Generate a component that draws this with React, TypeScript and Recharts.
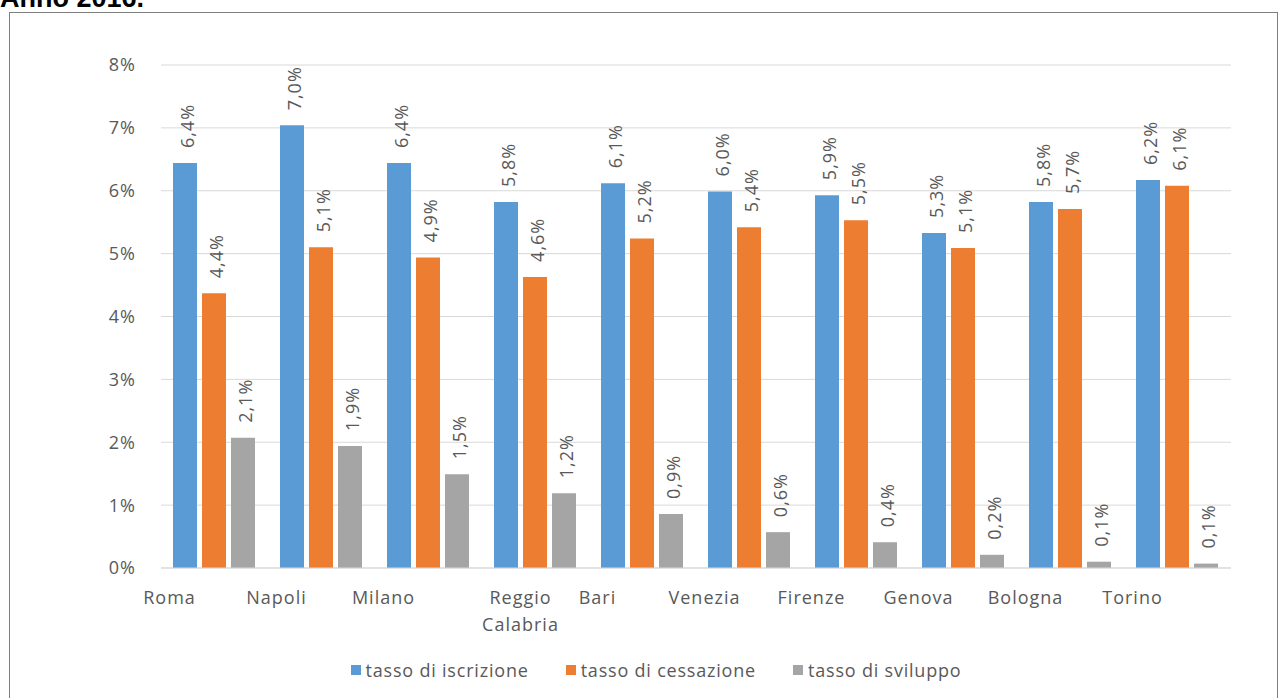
import React from 'react';
import { BarChart, Bar, XAxis, YAxis, CartesianGrid, Legend, LabelList } from 'recharts';

const categories = ['Roma', 'Napoli', 'Milano', 'Reggio Calabria', 'Bari', 'Venezia', 'Firenze', 'Genova', 'Bologna', 'Torino'];
const iscrizione = [6.44, 7.04, 6.44, 5.82, 6.12, 5.99, 5.93, 5.33, 5.82, 6.17];
const cessazione = [4.37, 5.1, 4.94, 4.63, 5.24, 5.42, 5.53, 5.09, 5.71, 6.08];
const sviluppo = [2.07, 1.94, 1.49, 1.19, 0.86, 0.57, 0.41, 0.21, 0.1, 0.07];
const yTicks = [0, 1, 2, 3, 4, 5, 6, 7, 8];
const seriesNames = ['tasso di iscrizione', 'tasso di cessazione', 'tasso di sviluppo'];
const title = 'Anno 2016.';

const COLORS = ['#5B9BD5', '#ED7D31', '#A5A5A5'];
const TEXT = '#595959';
const FONT = "'Open Sans', sans-serif";

const data = categories.map((c, i) => ({
  name: c,
  iscr: iscrizione[i],
  cess: cessazione[i],
  svil: sviluppo[i],
}));

const fmt = (v: number) => v.toFixed(1).replace('.', ',') + '%';

const DataLabel = (props: any) => {
  const { x, y, width, value } = props;
  const cx = x + width / 2 + 2;
  const cy = y - 15;
  return (
    <text
      x={cx}
      y={cy}
      transform={`rotate(-90, ${cx}, ${cy})`}
      textAnchor="start"
      dominantBaseline="central"
      fontFamily={FONT}
      fontSize={18}
      letterSpacing={1}
      fill={TEXT}
    >
      {fmt(value)}
    </text>
  );
};

const CategoryTick = (props: any) => {
  const { x, y, payload } = props;
  const lines = String(payload.value).split(' ');
  const shift = lines.length > 1 ? -15 : -45;
  return (
    <text
      x={x + shift}
      y={y}
      textAnchor="middle"
      fontFamily={FONT}
      fontSize={18}
      letterSpacing={1}
      fill={TEXT}
    >
      {lines.map((l, i) => (
        <tspan key={i} x={x + shift} dy={i === 0 ? 36 : 27}>
          {l}
        </tspan>
      ))}
    </text>
  );
};

const LegendContent = () => (
  <div
    style={{
      display: 'flex',
      justifyContent: 'center',
      alignItems: 'center',
      paddingLeft: 30,
      height: 30,
      fontFamily: FONT,
      fontSize: 18,
      letterSpacing: 0.8,
      color: TEXT,
    }}
  >
    {seriesNames.map((n, i) => (
      <div
        key={n}
        style={{ display: 'flex', alignItems: 'center', marginRight: i < seriesNames.length - 1 ? 37 : 0 }}
      >
        <span style={{ display: 'inline-block', width: 10, height: 10, background: COLORS[i], marginRight: 5 }} />
        <span>{n}</span>
      </div>
    ))}
  </div>
);

export default function App() {
  return (
    <div
      style={{
        position: 'absolute',
        left: 0,
        top: 0,
        width: 1282,
        height: 698,
        overflow: 'hidden',
        background: '#ffffff',
      }}
    >
      <div
        style={{
          position: 'absolute',
          left: 0,
          top: -15,
          fontFamily: "'Liberation Sans', Arial, sans-serif",
          fontWeight: 'bold',
          fontSize: 27,
          lineHeight: '27px',
          color: '#000',
          whiteSpace: 'nowrap',
        }}
      >
        {title}
      </div>
      <div
        style={{
          position: 'absolute',
          left: 9,
          top: 12,
          width: 1269,
          height: 720,
          border: '1px solid #7f7f7f',
          boxSizing: 'border-box',
        }}
      />
      <div style={{ position: 'absolute', left: 0, top: 0 }}>
        <BarChart
          width={1282}
          height={698}
          data={data}
          margin={{ top: 65, right: 51, left: 0, bottom: 13 }}
          barCategoryGap={12}
          barGap={5}
        >
          <CartesianGrid vertical={false} stroke="#d9d9d9" />
          <XAxis
            dataKey="name"
            height={87}
            tickLine={false}
            tickSize={0}
            tickMargin={0}
            axisLine={{ stroke: '#d9d9d9' }}
            interval={0}
            tick={<CategoryTick />}
          />
          <YAxis
            width={161}
            domain={[0, 8]}
            ticks={yTicks}
            tickFormatter={(v: number) => `${v}%`}
            axisLine={false}
            tickLine={false}
            tickMargin={19}
            tick={{ fontFamily: FONT, fontSize: 18, fill: TEXT, letterSpacing: 1 }}
          />
          <Legend
            verticalAlign="bottom"
            height={30}
            wrapperStyle={{ left: 0, width: 1282 }}
            content={<LegendContent />}
          />
          <Bar dataKey="iscr" name={seriesNames[0]} fill={COLORS[0]} isAnimationActive={false}>
            <LabelList dataKey="iscr" content={<DataLabel />} />
          </Bar>
          <Bar dataKey="cess" name={seriesNames[1]} fill={COLORS[1]} isAnimationActive={false}>
            <LabelList dataKey="cess" content={<DataLabel />} />
          </Bar>
          <Bar dataKey="svil" name={seriesNames[2]} fill={COLORS[2]} isAnimationActive={false}>
            <LabelList dataKey="svil" content={<DataLabel />} />
          </Bar>
        </BarChart>
      </div>
    </div>
  );
}
